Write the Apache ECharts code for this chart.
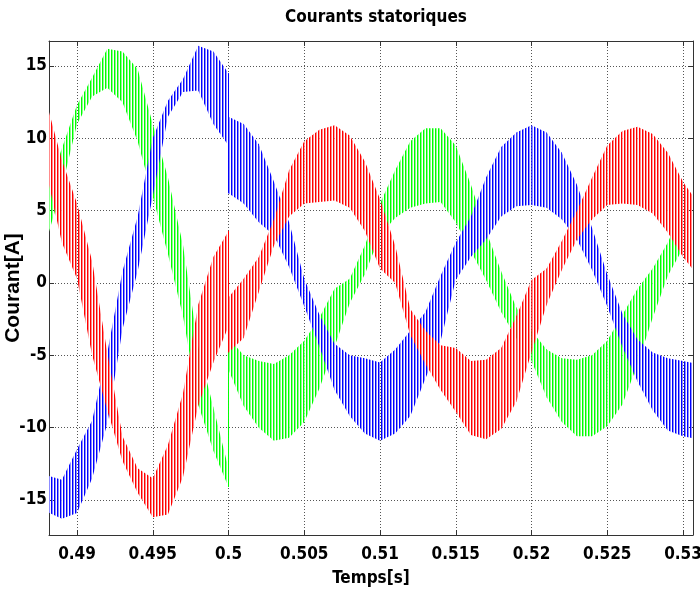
<!DOCTYPE html>
<html>
<head>
<meta charset="utf-8">
<title>Courants statoriques</title>
<script src="https://cdn.jsdelivr.net/npm/echarts@6.0.0/dist/echarts.min.js"></script>
<style>
  html, body { margin: 0; padding: 0; background: #fff; }
  #courants-chart { width: 700px; height: 595px; }
</style>
</head>
<body>
<div id="courants-chart"></div>
<script>
// temps [s] : 0.5 appears twice (just before / just after the change of regime)
var temps = [0.488, 0.489, 0.490, 0.491, 0.492, 0.493, 0.494, 0.495, 0.496, 0.497, 0.498, 0.499, 0.500,
  0.500, 0.501, 0.502, 0.503, 0.504, 0.505, 0.506, 0.507, 0.508, 0.509, 0.510, 0.511, 0.512, 0.513,
  0.514, 0.515, 0.516, 0.517, 0.518, 0.519, 0.520, 0.521, 0.522, 0.523, 0.524, 0.525, 0.526, 0.527,
  0.528, 0.529, 0.530, 0.531];

// envelope of each phase current (ripple top / ripple bottom) [A]
var ia_haut = [12.4, 8.5, 5.5, 1.5, -4.8, -10.6, -12.8, -13.5, -11.2, -7.6, -1.5, 1.8, 3.6,
  -1.0, 0.3, 1.8, 4.4, 7.8, 9.8, 10.6, 10.9, 10.2, 8.4, 5.8, 2.6, -1.8, -3.3, -4.3, -4.5, -5.4, -5.3,
  -4.5, -2.3, 0.2, 1.0, 2.9, 5.0, 7.3, 9.5, 10.5, 10.8, 10.3, 9.0, 7.0, 5.5];
var ia_bas = [7.5, 2.8, 0.3, -5.0, -8.8, -12.3, -14.5, -16.2, -16.0, -13.4, -8.5, -5.5, -3.0,
  -4.8, -3.8, -0.6, 2.6, 4.6, 5.5, 5.6, 5.7, 5.2, 3.6, 1.0, 0.0, -3.6, -5.6, -7.4, -8.9, -10.5, -10.8,
  -10.1, -8.2, -4.8, -1.5, 0.9, 3.0, 4.4, 5.4, 5.5, 5.4, 4.8, 3.5, 1.8, 0.5];

var ib_haut = [6.3, 9.3, 12.3, 14.2, 16.2, 16.0, 14.8, 11.0, 7.3, 2.6, -4.4, -8.6, -12.8,
  -3.8, -5.0, -5.4, -5.6, -5.0, -4.0, -2.4, -0.4, 0.3, 2.6, 5.5, 7.8, 9.8, 10.7, 10.7, 9.5, 6.8, 3.6,
  0.8, -1.7, -3.3, -4.6, -5.2, -5.3, -5.0, -4.0, -2.2, -0.4, 1.0, 2.8, 5.2, 6.5];
var ib_bas = [3.0, 6.6, 11.0, 12.9, 13.5, 12.5, 9.8, 6.0, 2.0, -2.3, -8.4, -11.6, -14.1,
  -6.0, -8.5, -10.0, -10.9, -10.7, -9.6, -7.3, -4.4, -1.4, 0.6, 3.3, 4.5, 5.2, 5.5, 5.6, 4.2, 2.2, 0.2,
  -2.0, -3.8, -5.4, -7.9, -9.6, -10.6, -10.6, -9.9, -8.4, -5.6, -2.4, 0.5, 2.4, 3.8];

var ic_haut = [-13.3, -13.6, -11.5, -9.5, -4.8, 0.8, 4.6, 10.0, 12.6, 14.1, 16.4, 16.0, 14.5,
  11.5, 11.0, 9.6, 7.0, 4.2, 0.3, -2.2, -4.2, -5.0, -5.2, -5.5, -4.6, -3.3, -2.0, 0.5, 2.8, 4.6, 7.3,
  9.4, 10.4, 10.9, 10.4, 9.0, 6.8, 3.8, 0.6, -2.1, -3.9, -4.8, -5.2, -5.4, -5.6];
var ic_bas = [-15.8, -16.3, -15.9, -13.5, -9.7, -3.2, 0.8, 6.0, 11.5, 13.2, 13.3, 11.0, 9.5,
  6.2, 5.5, 4.2, 3.3, 1.1, -1.6, -4.4, -7.4, -9.2, -10.4, -10.9, -10.4, -9.2, -6.6, -4.0, 0.2, 1.8, 3.0,
  4.6, 5.3, 5.4, 5.2, 4.4, 3.0, 0.9, -1.6, -4.4, -6.8, -8.8, -10.2, -10.6, -10.8];

var narrow_font = "'Liberation Sans Narrow', 'Arial Narrow', 'DejaVu Sans Condensed', sans-serif";

// vertical stripes look like the dense PWM ripple
function stripe_pattern(dark, light) {
  var c = document.createElement('canvas');
  c.width = 3;
  c.height = 1;
  var ctx = c.getContext('2d');
  ctx.fillStyle = dark;
  ctx.fillRect(0, 0, 1, 1);
  ctx.fillStyle = light;
  ctx.fillRect(1, 0, 1, 1);
  return { image: c, repeat: 'repeat' };
}

function build_segments(haut, bas) {
  var seg = [];
  for (var i = 0; i < temps.length - 1; i++) {
    seg.push([temps[i], haut[i], bas[i], temps[i + 1], haut[i + 1], bas[i + 1]]);
  }
  return seg;
}

function render_band(pattern, color) {
  return function (params, api) {
    var t0 = api.value(0), t1 = api.value(3);
    var a = api.coord([t0, api.value(1)]);
    var b = api.coord([t1, api.value(4)]);
    var c = api.coord([t1, api.value(5)]);
    var d = api.coord([t0, api.value(2)]);
    if (t1 - t0 < 1e-9) {
      // step at t = 0.5
      var ys = [a[1], b[1], c[1], d[1]];
      return {
        type: 'line',
        shape: { x1: a[0], y1: Math.min.apply(null, ys), x2: a[0], y2: Math.max.apply(null, ys) },
        style: { stroke: color, lineWidth: 1 }
      };
    }
    return {
      type: 'polygon',
      shape: { points: [a, b, c, d] },
      style: { fill: pattern }
    };
  };
}

function tick_label(step) {
  return function (v) {
    var k = v / step;
    if (Math.abs(k - Math.round(k)) > 1e-6) return '';
    return String(Number(v.toFixed(4)));
  };
}

function draw_courants_chart() {
  var courants_chart = echarts.init(document.getElementById('courants-chart'));

  var phases = [
    { name: 'ib', haut: ib_haut, bas: ib_bas, dark: '#00ff00', light: '#8cff8c' },
    { name: 'ic', haut: ic_haut, bas: ic_bas, dark: '#0000ff', light: '#8c8cff' },
    { name: 'ia', haut: ia_haut, bas: ia_bas, dark: '#ff0000', light: '#ff8c8c' }
  ];

  var series = phases.map(function (p) {
    return {
      name: p.name,
      type: 'custom',
      xAxisIndex: 0,
      yAxisIndex: 0,
      clip: true,
      renderItem: render_band(stripe_pattern(p.dark, p.light), p.dark),
      encode: { x: [0, 3], y: [1, 2, 4, 5] },
      data: build_segments(p.haut, p.bas)
    };
  });

  var grid_line = { show: true, lineStyle: { color: '#555', width: 1, type: [1, 2] } };
  var frame_line = { show: true, onZero: false, lineStyle: { color: '#333', width: 1 } };
  var label_font = { fontFamily: narrow_font, fontWeight: 'bold', fontSize: 17, color: '#000' };

  var option = {
    animation: false,
    backgroundColor: '#fff',
    title: {
      text: 'Courants statoriques',
      left: 371,
      top: 4,
      textAlign: 'center',
      textStyle: { fontFamily: narrow_font, fontWeight: 'bold', fontSize: 17, color: '#000' }
    },
    grid: { left: 49, right: 7, top: 41, bottom: 60, containLabel: false, outerBoundsMode: 'none' },
    xAxis: [{
      type: 'value',
      position: 'bottom',
      min: 0.48815,
      max: 0.53066,
      splitNumber: 9,
      axisLine: frame_line,
      axisTick: { show: true, inside: true, length: 5, lineStyle: { color: '#333' } },
      axisLabel: Object.assign({ formatter: tick_label(0.005), margin: 11 }, label_font),
      splitLine: grid_line,
      name: 'Temps[s]',
      nameLocation: 'middle',
      nameGap: 35,
      nameMoveOverlap: false,
      nameTextStyle: label_font
    }, {
      type: 'value',
      position: 'top',
      min: 0.48815,
      max: 0.53066,
      splitNumber: 9,
      axisLine: frame_line,
      axisTick: { show: true, inside: true, length: 5, lineStyle: { color: '#333' } },
      axisLabel: { show: false },
      splitLine: { show: false }
    }],
    yAxis: [{
      type: 'value',
      position: 'left',
      min: -17.42,
      max: 16.73,
      splitNumber: 7,
      axisLine: frame_line,
      axisTick: { show: true, inside: true, length: 5, lineStyle: { color: '#333' } },
      axisLabel: Object.assign({ formatter: tick_label(5), margin: 2 }, label_font),
      splitLine: grid_line,
      name: 'Courant[A]',
      nameLocation: 'middle',
      nameGap: 25,
      nameMoveOverlap: false,
      nameTextStyle: { fontFamily: "'Liberation Sans', Arial, sans-serif", fontWeight: 'bold', fontSize: 21, color: '#000' }
    }, {
      type: 'value',
      position: 'right',
      min: -17.42,
      max: 16.73,
      splitNumber: 7,
      axisLine: frame_line,
      axisTick: { show: true, inside: true, length: 5, lineStyle: { color: '#333' } },
      axisLabel: { show: false },
      splitLine: { show: false }
    }],
    series: series
  };

  courants_chart.setOption(option);
  window.addEventListener('resize', function () {
    courants_chart.resize();
  });
}

draw_courants_chart();
</script>
</body>
</html>
